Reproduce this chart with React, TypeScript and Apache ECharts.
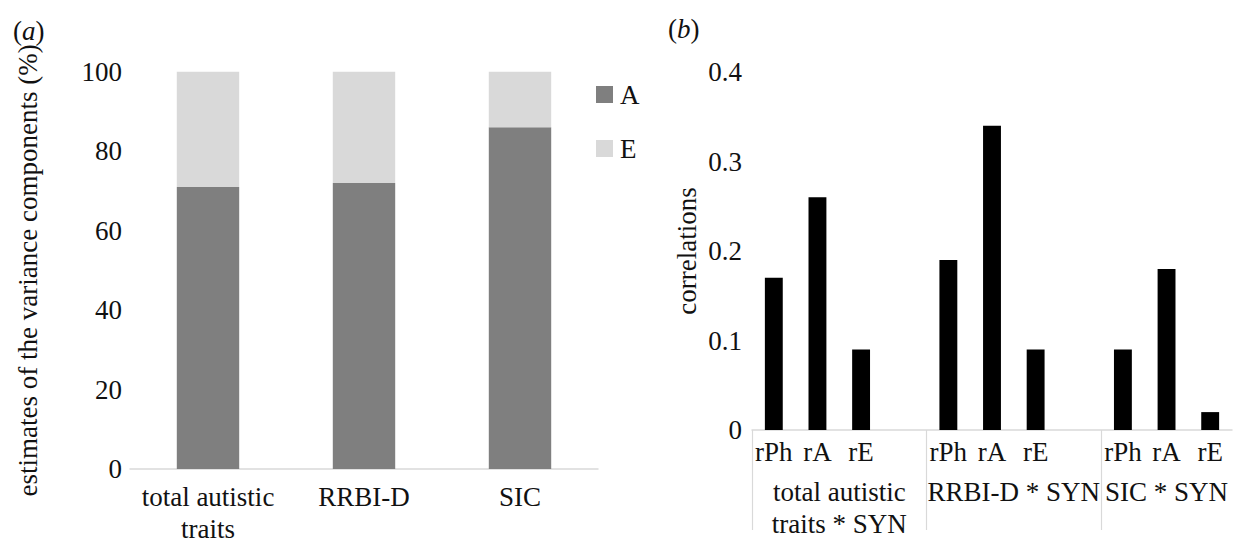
import React, { useEffect, useRef } from "react";
import * as echarts from "echarts";

// ---- data (a): variance components ----
const traitCategories = ["total autistic\ntraits", "RRBI-D", "SIC"];
const componentA = [71, 72, 86];
const componentE = [29, 28, 14];
const varianceTicksMax = 100;

// ---- data (b): correlations ----
const subCategories = ["rPh", "rA", "rE"];
const groupNames = ["total autistic\ntraits * SYN", "RRBI-D * SYN", "SIC * SYN"];
const totalCorr = [0.17, 0.26, 0.09];
const rrbiCorr = [0.19, 0.34, 0.09];
const sicCorr = [0.09, 0.18, 0.02];

const FONT = "Liberation Serif";
const TXT = "#111";
const AXIS_GRAY = "#d9d9d9";
const FS = 27;

export default function App() {
  const ref = useRef<HTMLDivElement>(null);

  useEffect(() => {
    if (!ref.current) return;
    const chart = echarts.init(ref.current, null, { renderer: "svg" });

    const groups = [totalCorr, rrbiCorr, sicCorr];
    const cats: string[] = [];
    const vals: (number | null)[] = [];
    const starts: number[] = [];
    const centers: number[] = [];
    groups.forEach((g, gi) => {
      const start = cats.length;
      starts.push(start);
      g.forEach((v, i) => {
        cats.push(subCategories[i]);
        vals.push(v);
      });
      if (gi < groups.length - 1) {
        cats.push("");
        vals.push(null);
      }
      centers.push((start + cats.length) / 2);
    });
    const totalSlots = cats.length;
    const labelAt = (v: number) => {
      const idx = centers.findIndex((c) => Math.abs(c - v) < 1e-6);
      return idx >= 0 ? groupNames[idx] : "";
    };

    const baseText = { fontFamily: FONT, fontSize: FS, color: TXT, fontWeight: "normal" as const };
    const titleRich = {
      p: { fontFamily: FONT, fontSize: FS, color: TXT, fontWeight: "normal" },
      i: { fontFamily: FONT, fontSize: FS, color: TXT, fontStyle: "italic", fontWeight: "normal" },
    };

    chart.setOption({
      animation: false,
      textStyle: { fontFamily: FONT },
      title: [
        {
          text: "{p|(}{i|a}{p|)}",
          left: 8,
          top: 12,
          textStyle: { fontWeight: "normal", rich: titleRich },
        },
        {
          text: "{p|(}{i|b}{p|)}",
          left: 663,
          top: 10,
          textStyle: { fontWeight: "normal", rich: titleRich },
        },
      ],
      legend: {
        orient: "vertical",
        left: 591,
        top: 76,
        itemWidth: 17,
        itemHeight: 17,
        itemGap: 27,
        icon: "rect",
        data: ["A", "E"],
        textStyle: { ...baseText, padding: [0, 0, 0, 2] },
      },
      grid: [
        { left: 130, top: 71.7, width: 468, height: 407.3 },
        { left: 752, top: 72, width: 480, height: 358 },
      ],
      xAxis: [
        {
          type: "category",
          gridIndex: 0,
          data: traitCategories,
          axisLine: { lineStyle: { color: AXIS_GRAY, width: 1.5 } },
          axisTick: { show: false },
          axisLabel: { ...baseText, lineHeight: 32, margin: 12, interval: 0 },
        },
        {
          type: "category",
          gridIndex: 1,
          data: cats,
          position: "bottom",
          axisLine: { lineStyle: { color: AXIS_GRAY, width: 1.5 } },
          axisTick: { show: false },
          axisLabel: { ...baseText, margin: 8, interval: 0 },
        },
        {
          type: "value",
          gridIndex: 1,
          position: "bottom",
          offset: 0,
          min: 0,
          max: totalSlots,
          axisLine: { show: false },
          splitLine: { show: false },
          axisTick: {
            show: true,
            length: 100,
            customValues: starts,
            lineStyle: { color: AXIS_GRAY, width: 1.2 },
          },
          axisLabel: {
            ...baseText,
            lineHeight: 32,
            margin: 46,
            customValues: centers,
            formatter: (v: number) => labelAt(v),
          },
        },
      ],
      yAxis: [
        {
          type: "value",
          gridIndex: 0,
          min: 0,
          max: varianceTicksMax,
          interval: 20,
          axisLine: { show: false },
          axisTick: { show: false },
          splitLine: { show: false },
          axisLabel: { ...baseText, margin: 8 },
          name: "estimates of the variance components (%)",
          nameLocation: "middle",
          nameGap: 89,
          nameTextStyle: { ...baseText },
        },
        {
          type: "value",
          gridIndex: 1,
          min: 0,
          max: 0.4,
          interval: 0.1,
          axisLine: { show: false },
          axisTick: { show: false },
          splitLine: { show: false },
          axisLabel: { ...baseText, margin: 10 },
          name: "correlations",
          nameLocation: "middle",
          nameGap: 52,
          nameTextStyle: { ...baseText },
        },
      ],
      series: [
        {
          name: "A",
          type: "bar",
          stack: "var",
          xAxisIndex: 0,
          yAxisIndex: 0,
          data: componentA,
          barWidth: "40%",
          itemStyle: { color: "#7f7f7f" },
        },
        {
          name: "E",
          type: "bar",
          stack: "var",
          xAxisIndex: 0,
          yAxisIndex: 0,
          data: componentE,
          barWidth: "40%",
          itemStyle: { color: "#d9d9d9" },
        },
        {
          name: "corr",
          type: "bar",
          xAxisIndex: 1,
          yAxisIndex: 1,
          data: vals,
          barWidth: "41%",
          itemStyle: { color: "#000" },
        },
      ],
    });

    return () => chart.dispose();
  }, []);

  return (
    <div
      ref={ref}
      style={{ position: "fixed", left: 0, top: 0, width: 1250, height: 545, background: "#fff" }}
    />
  );
}
